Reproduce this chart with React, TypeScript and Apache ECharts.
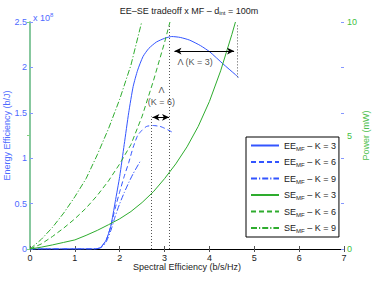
import React, { useEffect, useRef } from "react";
import * as echarts from "echarts";

// ---- data ----
const xTicks = [0, 1, 2, 3, 4, 5, 6, 7];
const eeTicks = [0, 0.5, 1, 1.5, 2, 2.5];
const powerTicks = [0, 5, 10];

// Energy efficiency (x 10^8 b/J) vs spectral efficiency
const eeK3: number[][] = [
  [0, 0], [1.45, 0], [1.55, 0.01], [1.6, 0.03], [1.7, 0.1], [1.8, 0.25], [1.9, 0.52],
  [2.0, 0.8], [2.1, 1.15], [2.2, 1.5], [2.3, 1.79], [2.4, 1.97], [2.52, 2.12],
  [2.65, 2.21], [2.82, 2.28], [3.0, 2.32], [3.16, 2.34], [3.35, 2.33], [3.56, 2.3],
  [3.8, 2.24], [4.01, 2.17], [4.3, 2.04], [4.58, 1.92], [4.65, 1.89],
];
const eeK6: number[][] = [
  [0, 0], [1.45, 0], [1.55, 0.01], [1.6, 0.03], [1.7, 0.1], [1.8, 0.25], [1.9, 0.45],
  [2.0, 0.63], [2.1, 0.8], [2.2, 0.95], [2.3, 1.12], [2.4, 1.25], [2.5, 1.31],
  [2.6, 1.35], [2.74, 1.36], [2.9, 1.35], [3.0, 1.33], [3.16, 1.29],
];
const eeK9: number[][] = [
  [0, 0], [1.45, 0], [1.55, 0.01], [1.6, 0.02], [1.7, 0.08], [1.8, 0.2], [1.9, 0.36],
  [2.0, 0.5], [2.1, 0.62], [2.2, 0.73], [2.3, 0.83], [2.45, 0.96],
];
// Power (mW) vs spectral efficiency
const seK3: number[][] = [
  [0, 0], [0.25, 0.08], [0.5, 0.18], [0.75, 0.29], [1.0, 0.4], [1.25, 0.6], [1.5, 0.82],
  [1.75, 1.07], [2.0, 1.33], [2.25, 1.65], [2.5, 2.05], [2.75, 2.52], [3.0, 3.1],
  [3.25, 3.75], [3.5, 4.5], [3.75, 5.4], [4.0, 6.5], [4.25, 7.85], [4.5, 9.45], [4.58, 10],
];
const seK6: number[][] = [
  [0, 0], [0.25, 0.22], [0.5, 0.55], [0.75, 0.92], [1.0, 1.33], [1.25, 1.8], [1.5, 2.36],
  [1.75, 3.0], [2.0, 3.75], [2.25, 4.6], [2.5, 5.85], [2.75, 7.4], [3.0, 9.1], [3.12, 10],
];
const seK9: number[][] = [
  [0, 0], [0.25, 0.42], [0.5, 0.95], [0.75, 1.58], [1.0, 2.3], [1.25, 3.1], [1.5, 4.15],
  [1.75, 5.3], [2.0, 6.6], [2.25, 8.1], [2.49, 10],
];

// annotation positions (data coordinates)
const lambdaK3Arrow = [[3.22, 2.18], [4.55, 2.18]];
const lambdaK6Arrow = [[2.73, 1.45], [3.1, 1.45]];
const dotLines = [
  [[2.71, 0], [2.71, 1.46]],
  [[3.11, 0], [3.11, 2.47]],
  [[4.62, 1.89], [4.62, 2.47]],
];
const annotTexts = [
  { name: "Λ (K = 3)", value: [3.68, 2.06] },
  { name: "Λ", value: [2.93, 1.75] },
  { name: "(K = 6)", value: [2.93, 1.62] },
];

const seriesNames = ["EE3", "EE6", "EE9", "SE3", "SE6", "SE9"];
const legendLabels: Record<string, string> = {
  EE3: "EE{sub|MF} – K = 3",
  EE6: "EE{sub|MF} – K = 6",
  EE9: "EE{sub|MF} – K = 9",
  SE3: "SE{sub|MF} – K = 3",
  SE6: "SE{sub|MF} – K = 6",
  SE9: "SE{sub|MF} – K = 9",
};

const BLUE = "#3355ff";
const GREEN = "#2eac2e";
const FONT = "Liberation Sans";
const FS = 9;
const dashDot = [6, 2, 1.2, 2];

export default function App() {
  const ref = useRef<HTMLDivElement>(null);
  useEffect(() => {
    if (!ref.current) return;
    const chart = echarts.init(ref.current, null, { renderer: "svg" });
    const lineSeries = (name: string, data: number[][], color: string, type: any, yIdx: number, smooth: number) => ({
      name,
      type: "line",
      data,
      yAxisIndex: yIdx,
      symbol: "none",
      showSymbol: false,
      smooth,
      lineStyle: { color, width: 1, type },
      itemStyle: { color },
      z: 3,
    });
    chart.setOption({
      animation: false,
      textStyle: { fontFamily: FONT },
      title: [
        {
          text: "EE–SE tradeoff x MF – d{sub|int} = 100m",
          left: "center",
          top: 0,
          textStyle: {
            fontSize: FS,
            fontWeight: "normal",
            color: "#222",
            fontFamily: FONT,
            rich: { sub: { fontSize: 6, padding: [5, 0, 0, 0], color: "#222", fontFamily: FONT } },
          },
        },
        {
          text: "x 10{sup|8}",
          left: 28,
          top: 7,
          textStyle: {
            fontSize: FS,
            fontWeight: "normal",
            color: "#4d69ff",
            fontFamily: FONT,
            rich: { sup: { fontSize: 6, padding: [0, 0, 6, 0], color: "#4d69ff", fontFamily: FONT } },
          },
        },
      ],
      grid: { left: 30, right: 34, top: 22, bottom: 32, containLabel: false, outerBoundsMode: "none" },
      legend: {
        data: seriesNames,
        orient: "vertical",
        left: 246,
        top: 137,
        padding: [3, 3, 3, 4],
        itemWidth: 28,
        itemHeight: 8,
        itemGap: 5,
        borderColor: "#000",
        borderWidth: 1,
        backgroundColor: "#fff",
        itemStyle: { opacity: 0 },
        formatter: (n: string) => legendLabels[n],
        textStyle: {
          fontSize: FS,
          color: "#222",
          fontFamily: FONT,
          lineHeight: 11,
          rich: { sub: { fontSize: 6, padding: [6, 0, 0, 0], color: "#222", fontFamily: FONT } },
        },
      },
      xAxis: [
        {
          type: "value",
          min: 0,
          max: 7,
          interval: 1,
          name: "Spectral Efficiency (b/s/Hz)",
          nameLocation: "middle",
          nameGap: 13,
          nameMoveOverlap: false,
          nameTextStyle: { fontSize: FS, color: "#222", fontFamily: FONT },
          axisLine: { lineStyle: { color: "#000", width: 1 } },
          axisTick: { inside: true, length: 3, lineStyle: { color: "#555" } },
          axisLabel: { fontSize: FS, color: "#222", margin: 4, formatter: (v: number) => (xTicks.includes(v) ? String(v) : "") },
          splitLine: { show: false },
        },
        {
          type: "value",
          position: "top",
          min: 0,
          max: 7,
          interval: 1,
          axisLine: { lineStyle: { color: "#000", width: 1 } },
          axisTick: { inside: true, length: 3, lineStyle: { color: "#555" } },
          axisLabel: { show: false },
          splitLine: { show: false },
        },
      ],
      yAxis: [
        {
          type: "value",
          min: 0,
          max: 2.5,
          interval: 0.5,
          name: "Energy Efficiency (b/J)",
          nameLocation: "middle",
          nameRotate: 90,
          nameGap: 19,
          nameMoveOverlap: false,
          nameTextStyle: { fontSize: FS, color: "#4d69ff", fontFamily: FONT },
          axisLine: { show: true, lineStyle: { color: "#8597ff", width: 1.5 } },
          axisTick: { show: true, inside: true, length: 3, lineStyle: { color: "#8597ff" } },
          axisLabel: { fontSize: FS, color: "#4d69ff", margin: 3, formatter: (v: number) => (eeTicks.includes(v) ? String(v) : "") },
          splitLine: { show: false },
        },
        {
          type: "value",
          min: 0,
          max: 10,
          interval: 5,
          position: "right",
          name: "Power (mW)",
          nameLocation: "middle",
          nameRotate: 90,
          nameGap: 17,
          nameMoveOverlap: false,
          nameTextStyle: { fontSize: FS, color: "#4cc04c", fontFamily: FONT },
          axisLine: { show: true, lineStyle: { color: "#7ed07e", width: 1.5 } },
          axisTick: { show: true, inside: true, length: 3, lineStyle: { color: "#7ed07e" } },
          axisLabel: { fontSize: FS, color: "#3fbf3f", margin: 3, formatter: (v: number) => (powerTicks.includes(v) ? String(v) : "") },
          splitLine: { show: false },
        },
        {
          type: "value",
          min: 0,
          max: 2.5,
          interval: 0.5,
          position: "right",
          axisLine: { show: false },
          axisTick: { show: true, inside: true, length: 3, lineStyle: { color: "#8597ff" } },
          axisLabel: { show: false },
          splitLine: { show: false },
        },
      ],
      series: [
        lineSeries("EE3", eeK3, BLUE, "solid", 0, 0.2),
        lineSeries("EE6", eeK6, BLUE, [5, 3], 0, 0.2),
        lineSeries("EE9", eeK9, BLUE, dashDot, 0, 0.2),
        lineSeries("SE3", seK3, GREEN, "solid", 1, 0),
        lineSeries("SE6", seK6, GREEN, [5, 3], 1, 0),
        lineSeries("SE9", seK9, GREEN, dashDot, 1, 0),
        {
          name: "annot",
          type: "line",
          data: [],
          yAxisIndex: 0,
          symbol: "none",
          markLine: {
            silent: true,
            label: { show: false },
            data: [
              ...dotLines.map((l) => [
                { coord: l[0], symbol: "none", lineStyle: { type: [1, 2], color: "#555", width: 1 } },
                { coord: l[1], symbol: "none" },
              ]),
              [
                { coord: lambdaK3Arrow[0], symbol: "arrow", symbolSize: [5, 7], lineStyle: { type: "solid", color: "#000", width: 1 } },
                { coord: lambdaK3Arrow[1], symbol: "arrow", symbolSize: [5, 7] },
              ],
              [
                { coord: lambdaK6Arrow[0], symbol: "arrow", symbolSize: [5, 7], lineStyle: { type: "solid", color: "#000", width: 1 } },
                { coord: lambdaK6Arrow[1], symbol: "arrow", symbolSize: [5, 7] },
              ],
            ],
          },
        },
        {
          name: "texts",
          type: "scatter",
          yAxisIndex: 0,
          symbolSize: 1,
          itemStyle: { color: "transparent" },
          data: annotTexts,
          label: {
            show: true,
            position: "inside",
            formatter: "{b}",
            fontSize: FS,
            color: "#222",
            fontFamily: FONT,
          },
          z: 5,
        },
      ],
    });
    return () => chart.dispose();
  }, []);
  return (
    <div
      ref={ref}
      style={{ position: "fixed", left: 0, top: 0, width: 378, height: 281, background: "#fff" }}
    />
  );
}
